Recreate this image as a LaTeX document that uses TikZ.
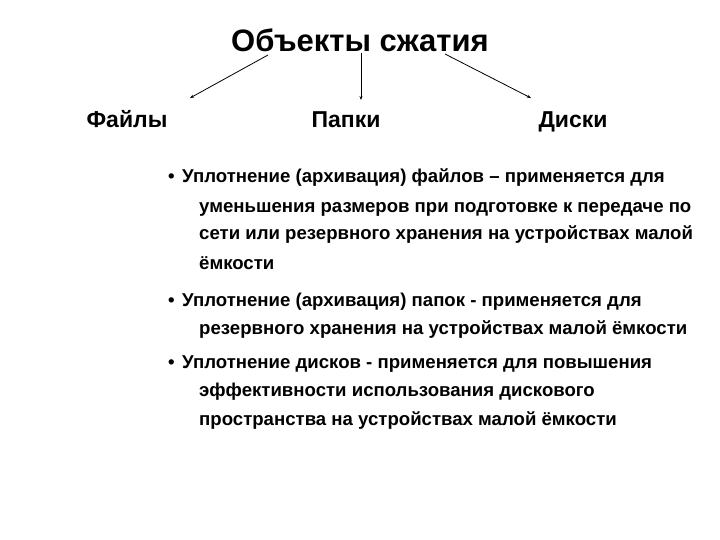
\documentclass[tikz,border=0pt]{standalone}
\usepackage{fontspec}
\setmainfont{Liberation Sans}
\usetikzlibrary{arrows.meta}
\begin{document}
\begin{tikzpicture}[x=1pt,y=-1pt,
  ttl/.style={font=\fontsize{31}{34}\selectfont\bfseries,inner sep=0,anchor=base},
  sub/.style={font=\fontsize{23}{26}\selectfont\bfseries,inner sep=0,anchor=base},
  ln/.style={font=\fontsize{18.6}{22}\selectfont\bfseries,inner sep=0,anchor=base west},
  arr/.style={->,>={Stealth[length=4pt,width=3pt]},line width=0.8pt}]
\useasboundingbox (0,0) rectangle (720,540);
\node[ttl] (t) at (360,52) {Объекты сжатия};
\node[sub] (f) at (127,128) {Файлы};
\node[sub] (p) at (346,128) {Папки};
\node[sub] (d) at (573,128) {Диски};
\coordinate (t1) at (268,55); \coordinate (e1) at (190,98);
\coordinate (t2) at (361,53); \coordinate (e2) at (361,100);
\coordinate (t3) at (445,54); \coordinate (e3) at (531,98);
\draw[arr] (t1) -- (e1);
\draw[arr] (t2) -- (e2);
\draw[arr] (t3) -- (e3);
\node[ln] (b1) at (168,183) {•};
\node[ln] (l1) at (182,183) {Уплотнение (архивация) файлов – применяется для};
\node[ln] (l2) at (199,212) {уменьшения размеров при подготовке к передаче по};
\node[ln] (l3) at (199,240) {сети или резервного хранения на устройствах малой};
\node[ln] (l4) at (199,269) {ёмкости};
\node[ln] (b2) at (168,306) {•};
\node[ln] (l5) at (182,306) {Уплотнение (архивация) папок - применяется для};
\node[ln] (l6) at (199,334) {резервного хранения на устройствах малой ёмкости};
\node[ln] (b3) at (168,368) {•};
\node[ln] (l7) at (182,368) {Уплотнение дисков - применяется для повышения};
\node[ln] (l8) at (199,396) {эффективности использования дискового};
\node[ln] (l9) at (199,425) {пространства на устройствах малой ёмкости};
\end{tikzpicture}
\end{document}
